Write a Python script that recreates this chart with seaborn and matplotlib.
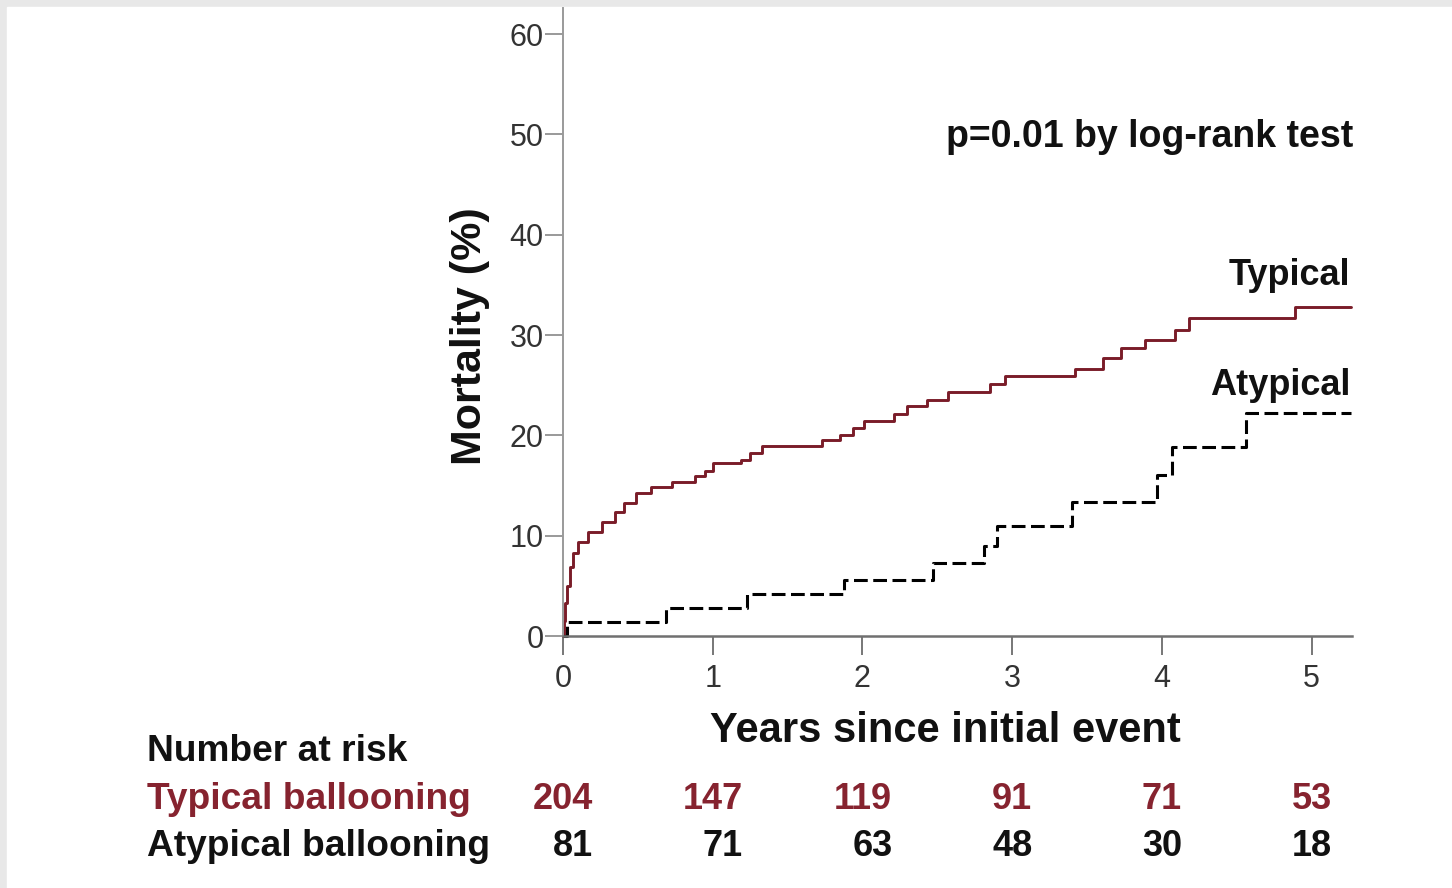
import numpy as np
import pandas as pd
import matplotlib
matplotlib.use('Agg')
import matplotlib.pyplot as plt
import matplotlib.transforms as mtransforms
from matplotlib.patches import Rectangle
import seaborn as sns

# cumulative mortality (%), steps-post
typical_years = [0, 0.005, 0.015, 0.03, 0.045, 0.07, 0.10, 0.17, 0.26, 0.35, 0.41, 0.49,
                 0.59, 0.73, 0.88, 0.95, 1.00, 1.19, 1.25, 1.33, 1.73, 1.85, 1.94, 2.01,
                 2.21, 2.30, 2.43, 2.57, 2.85, 2.95, 3.42, 3.61, 3.73, 3.89, 4.09, 4.18,
                 4.89, 5.26]
typical_mort = [0, 1.5, 3.3, 5.0, 6.9, 8.3, 9.4, 10.4, 11.4, 12.4, 13.3, 14.3,
                14.9, 15.4, 15.9, 16.4, 17.2, 17.5, 18.2, 18.9, 19.5, 20.0, 20.7, 21.4,
                22.1, 22.9, 23.5, 24.3, 25.1, 25.9, 26.6, 27.7, 28.7, 29.5, 30.5, 31.7,
                32.8, 32.8]

atypical_years = [0, 0.03, 0.69, 1.23, 1.88, 2.47, 2.81, 2.90, 3.40, 3.97, 4.07, 4.56, 5.26]
atypical_mort = [0, 1.4, 2.8, 4.2, 5.6, 7.3, 9.0, 11.0, 13.4, 16.0, 18.8, 22.2, 22.2]

# number at risk table
risk_years = [0, 1, 2, 3, 4, 5]
risk_typical = [204, 147, 119, 91, 71, 53]
risk_atypical = [81, 71, 63, 48, 30, 18]

x_ticks = [0, 1, 2, 3, 4, 5]
y_ticks = [0, 10, 20, 30, 40, 50, 60]

red_line = '#7a1c28'
red_text = '#86232f'
dark = '#111111'

sns.set_style('white')
plt.rcParams['font.family'] = ['Liberation Sans', 'DejaVu Sans']

W, H = 1452, 888
fig = plt.figure(figsize=(W / 100, H / 100), dpi=100)
fig.set_facecolor('white')
# light gray frame on top and left edge, like the source image
fig.patches.append(Rectangle((0, 0), 1, 1, transform=fig.transFigure,
                             color='#e8e8e8', zorder=-2))
fig.patches.append(Rectangle((7 / W, 0), 1, 1 - 7 / H, transform=fig.transFigure,
                             color='white', zorder=-1))

ax = fig.add_axes([563 / W, 252 / H, 789 / W, 628 / H])
ax.patch.set_alpha(0)

df_typ = pd.DataFrame({'years': typical_years, 'mortality': typical_mort})
df_aty = pd.DataFrame({'years': atypical_years, 'mortality': atypical_mort})

sns.lineplot(data=df_typ, x='years', y='mortality', ax=ax, estimator=None,
             drawstyle='steps-post', color=red_line, lw=2.1, clip_on=False)
sns.lineplot(data=df_aty, x='years', y='mortality', ax=ax, estimator=None,
             drawstyle='steps-post', color='black', lw=2.2,
             linestyle=(0, (4.5, 1.8)), clip_on=False)

ax.set_xlim(0, 5.27)
ax.set_ylim(0, 62.6)
ax.set_xticks(x_ticks)
ax.set_yticks(y_ticks)

for s in ['top', 'right']:
    ax.spines[s].set_visible(False)
ax.spines['left'].set_color('#9a9a9a')
ax.spines['left'].set_linewidth(1.4)
ax.spines['bottom'].set_color('#707070')
ax.spines['bottom'].set_linewidth(1.8)

ax.tick_params(axis='y', direction='out', length=13, width=1.2, color='#888888',
               pad=1, labelsize=22, labelcolor='#333333', left=True)
ax.tick_params(axis='x', direction='out', length=14, width=1.4, color='#777777',
               pad=6, labelsize=22, labelcolor='#333333', bottom=True)

ax.set_ylabel('Mortality (%)', fontsize=31, fontweight='bold', color=dark)
ax.yaxis.label.set_va('center')
ax.yaxis.set_label_coords(-0.118, 0.477)
ax.set_xlabel('Years since initial event', fontsize=30, fontweight='bold', color=dark)
ax.xaxis.label.set_va('center')
ax.xaxis.set_label_coords(0.485, -0.152)

# annotations in the plot
ax.text(5.28, 48.7, 'p=0.01 by log-rank test', ha='right', va='baseline',
        fontsize=27, fontweight='bold', color=dark)
ax.text(5.26, 35.0, 'Typical', ha='right', va='baseline',
        fontsize=26, fontweight='bold', color=dark)
ax.text(5.26, 24.0, 'Atypical', ha='right', va='baseline',
        fontsize=26, fontweight='bold', color=dark)

# number at risk table below the axes
trans = mtransforms.blended_transform_factory(ax.transData, fig.transFigure)
row_y = [0.143, 0.089, 0.036]
fig.text(147 / W, row_y[0], 'Number at risk', fontsize=26.7, fontweight='bold',
         va='baseline', color=dark)
fig.text(147 / W, row_y[1], 'Typical ballooning', fontsize=26.7, fontweight='bold',
         va='baseline', color=red_text)
fig.text(147 / W, row_y[2], 'Atypical ballooning', fontsize=26.7, fontweight='bold',
         va='baseline', color=dark)

for t, n_typ, n_aty in zip(risk_years, risk_typical, risk_atypical):
    if t < 3:
        xpos, ha = t + 0.2, 'right'
    else:
        xpos, ha = t, 'center'
    ax.text(xpos, row_y[1], str(n_typ), transform=trans, ha=ha, va='baseline',
            fontsize=26, fontweight='bold', color=red_text)
    ax.text(xpos, row_y[2], str(n_aty), transform=trans, ha=ha, va='baseline',
            fontsize=26, fontweight='bold', color=dark)

fig.savefig('out.png', dpi=100)
